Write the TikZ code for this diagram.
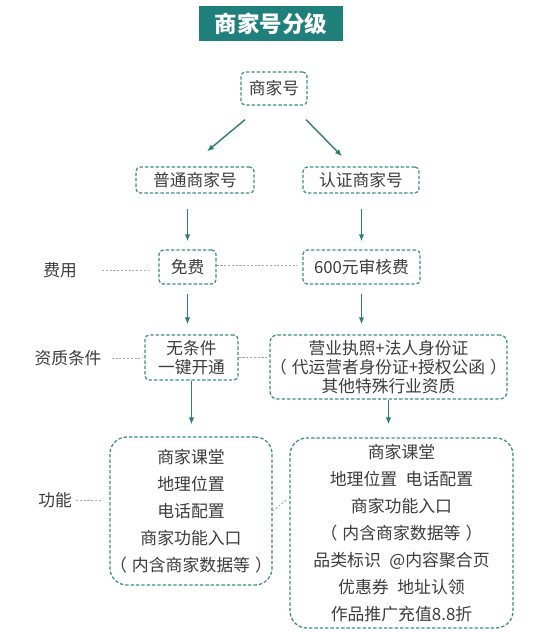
\documentclass[tikz,border=0pt]{standalone}
\usepackage{fontspec}
\newfontfamily\cjk{Noto Sans CJK SC}
\usetikzlibrary{arrows.meta, positioning}
\definecolor{titlefill}{HTML}{1F7F7B}
\definecolor{boxline}{HTML}{3A8F86}
\definecolor{arrowc}{HTML}{2E7D76}
\definecolor{txt}{HTML}{3C3C3C}
\definecolor{dotc}{HTML}{A8A8A8}

\begin{document}
\begin{tikzpicture}[
  box/.style={rectangle, draw=boxline, dash pattern=on 2.4pt off 1.4pt, line width=0.9pt, rounded corners=3pt, align=center, inner sep=0pt, text=txt, font=\cjk\fontsize{11.9}{13.6}\selectfont},
  funcbox/.style={box, rounded corners=12pt, font=\cjk\fontsize{12}{19.2}\selectfont},
  title/.style={rectangle, fill=titlefill, text=white, minimum width=3.6cm, minimum height=0.875cm, font=\cjk\bfseries\fontsize{16}{18}\selectfont},
  lbl/.style={text=txt, inner sep=0pt, font=\cjk\fontsize{11.9}{13.6}\selectfont},
  line/.style={-{Latex[length=5pt, width=4pt]}, draw=arrowc, line width=1pt},
  link/.style={draw=dotc, dash pattern=on 1.5pt off 1.2pt, line width=0.6pt}
]
\useasboundingbox (0,0) rectangle (13.8,-15.825);

\node[title] (head) at (6.775,-0.5875) {商家号分级};

\node[box, minimum width=1.65cm, minimum height=0.825cm] (root) at (6.85,-2.2125) {商家号};
\node[box, minimum width=2.95cm, minimum height=0.65cm] (normal) at (4.875,-4.5) {普通商家号};
\node[box, minimum width=2.9cm, minimum height=0.65cm] (certified) at (9.025,-4.5) {认证商家号};

% fee row
\node[box, minimum width=1.425cm, minimum height=0.85cm] (free) at (4.6875,-6.675) {免费};
\node[box, minimum width=2.925cm, minimum height=0.85cm] (fee) at (9.0375,-6.675) {600元审核费};
\node[lbl] (feelbl) at (1.5,-6.75) {费用};

% qualification row
\node[box, minimum width=2.325cm, minimum height=1.125cm] (nocond) at (4.7875,-8.9375) {无条件\\一键开通};
\node[box, rounded corners=5pt, minimum width=5.825cm, minimum height=1.6cm] (docs) at (9.7125,-9.175)
  {营业执照+法人身份证\\（\hspace{0.3em}代运营者身份证+授权公函\hspace{0.3em}）\\其他特殊行业资质};
\node[lbl] (qualbl) at (1.7,-8.95) {资质条件};

% function row
\node[funcbox, minimum width=4.05cm, minimum height=3.7cm] (basicfn) at (4.775,-12.775)
  {商家课堂\\地理位置\\电话配置\\商家功能入口\\（\hspace{0.3em}内含商家数据等\hspace{0.3em}）};
\node[funcbox, minimum width=5.575cm, minimum height=4.75cm] (fullfn) at (10.0375,-13.325)
  {商家课堂\\地理位置\hspace{0.5em}电话配置\\商家功能入口\\（\hspace{0.3em}内含商家数据等\hspace{0.3em}）\\品类标识\hspace{0.5em}@内容聚合页\\优惠券\hspace{0.5em}地址认领\\作品推广充值8.8折};
\node[lbl] (fnlbl) at (1.375,-12.5) {功能};

% arrows
\draw[line] ([shift={(-0.725,-0.35)}]root.south) -- ([shift={(0.3,0.375)}]normal.north);
\draw[line] ([shift={(0.8,-0.35)}]root.south) -- ([shift={(-0.475,0.25)}]certified.north);
\draw[line, shorten <=0.375cm, shorten >=0.2cm] (free.north |- normal.south) -- (free.north);
\draw[line, shorten <=0.375cm, shorten >=0.2cm] (fee.north |- certified.south) -- (fee.north);
\draw[line, shorten <=0.225cm, shorten >=0.25cm] (free.south) -- (free.south |- nocond.north);
\draw[line, shorten <=0.225cm, shorten >=0.25cm] (fee.south) -- (fee.south |- docs.north);
\draw[line, shorten >=0.3cm] (nocond.south) -- (nocond.south |- basicfn.north);
\draw[line, shorten >=0.325cm] (docs.south) -- (docs.south |- fullfn.north);

% dotted links
\draw[link, shorten <=0.625cm, shorten >=0.225cm] (feelbl.east) -- (free.west |- feelbl.east);
\draw[link, shorten >=0.15cm] ([yshift=0.05cm]free.east) -- ([yshift=0.05cm]fee.west);
\draw[link, shorten <=0.25cm, shorten >=0.075cm] (qualbl.east) -- (nocond.west |- qualbl.east);
\draw[link, shorten >=0.05cm] (nocond.east) -- (nocond.east -| docs.west);
\draw[link, shorten <=0.1cm, shorten >=0.175cm] (fnlbl.east) -- (basicfn.west |- fnlbl.east);
\draw[link] (basicfn.east) -- ([shift={(-0.075,0.825)}]fullfn.west);
\end{tikzpicture}
\end{document}
